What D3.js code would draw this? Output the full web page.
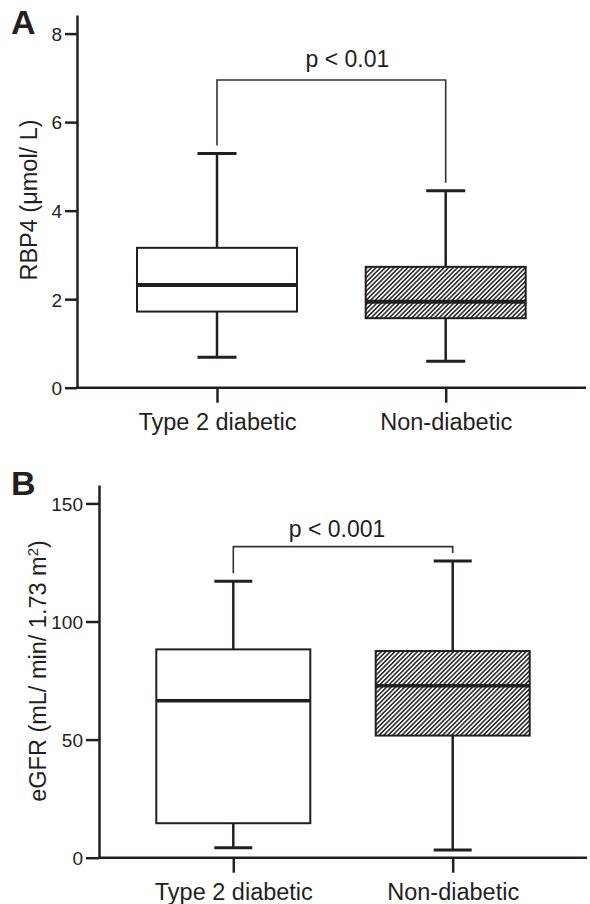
<!DOCTYPE html>
<html>
<head>
<meta charset="utf-8">
<script src="https://cdn.jsdelivr.net/npm/d3@7"></script>
<style>
  html, body { margin: 0; padding: 0; background: #fff; }
  svg { display: block; font-family: "Liberation Sans", Arial, Helvetica, sans-serif; }
</style>
</head>
<body>
<svg id="chart" width="590" height="904"></svg>
<script>
// ---------- data ----------
const categories = ["Type 2 diabetic", "Non-diabetic"];

// Panel A: RBP4 (µmol/L)
const rbp4Low    = [0.69, 0.60];
const rbp4Q1     = [1.72, 1.57];
const rbp4Median = [2.32, 1.94];
const rbp4Q3     = [3.16, 2.73];
const rbp4High   = [5.29, 4.45];
const rbp4Ticks  = [0, 2, 4, 6, 8];
const rbp4Bracket = { level: 6.95, legs: [5.47, 4.63], label: "p < 0.01" };

// Panel B: eGFR (mL/min/1.73 m²)
const egfrLow    = [4.2, 3.3];
const egfrQ1     = [14.6, 51.7];
const egfrMedian = [66.5, 72.8];
const egfrQ3     = [88.2, 87.5];
const egfrHigh   = [117.1, 125.6];
const egfrTicks  = [0, 50, 100, 150];
const egfrBracket = { level: 131.7, legs: [120.4, 129.0], label: "p < 0.001" };

const ink = "#231f20";
const svg = d3.select("#chart");

// hatch pattern
const defs = svg.append("defs");
const pat = defs.append("pattern")
  .attr("id", "hatch")
  .attr("patternUnits", "userSpaceOnUse")
  .attr("width", 3.2).attr("height", 10)
  .attr("patternTransform", "rotate(45)");
pat.append("rect").attr("width", 3.2).attr("height", 10).attr("fill", "#fff");
pat.append("line").attr("x1", 0.8).attr("x2", 0.8).attr("y1", 0).attr("y2", 10)
  .attr("stroke", ink).attr("stroke-width", 1.5);

function panel(cfg) {
  const g = svg.append("g");
  const y = d3.scaleLinear().domain([0, cfg.yTop]).range([cfg.y0, cfg.yTopPx]);
  const x = d3.scalePoint().domain(categories).range(cfg.xRange).padding(0);

  const rows = categories.map((c, i) => ({
    cat: c, i, low: cfg.low[i], q1: cfg.q1[i], med: cfg.med[i], q3: cfg.q3[i], high: cfg.high[i]
  }));

  // y axis
  const yAxis = d3.axisLeft(y).tickValues(cfg.ticks).tickSize(cfg.tickLen).tickSizeOuter(0).tickPadding(3);
  const ya = g.append("g").attr("transform", `translate(${cfg.axisX},0)`).call(yAxis);
  ya.select(".domain").attr("stroke", ink).attr("stroke-width", 2.5);
  ya.selectAll(".tick line").attr("stroke", ink).attr("stroke-width", 2.5);
  ya.selectAll(".tick text").attr("fill", ink).style("font-size", "19px").attr("dy", "0.36em");

  // x axis
  const xAxis = d3.axisBottom(x).tickSize(15).tickSizeOuter(0).tickPadding(12);
  const xa = g.append("g").attr("transform", `translate(0,${cfg.y0})`).call(xAxis);
  xa.select(".domain").remove();
  xa.append("line").attr("x1", cfg.axisX).attr("x2", cfg.xEnd).attr("y1", 0).attr("y2", 0)
    .attr("stroke", ink).attr("stroke-width", 2.5);
  xa.selectAll(".tick line").attr("stroke", ink).attr("stroke-width", 2.5);
  xa.selectAll(".tick text").attr("fill", ink).style("font-size", "23.5px")
    .attr("y", 42).attr("dy", 0);

  // y title
  g.append("text")
    .attr("transform", `translate(${cfg.titleX},${cfg.titleY}) rotate(-90)`)
    .attr("text-anchor", "middle").attr("fill", ink).style("font-size", "23.5px")
    .html(cfg.title);

  // panel letter
  g.append("text").attr("x", 11).attr("y", cfg.letterY).attr("fill", ink)
    .style("font-size", "34px").style("font-weight", "bold").text(cfg.letter);

  // boxes
  const bw = cfg.boxW, cw = cfg.capW;
  const box = g.selectAll(".box").data(rows).join("g").attr("class", "box");
  // whiskers
  box.append("line").attr("x1", d => x(d.cat)).attr("x2", d => x(d.cat))
    .attr("y1", d => y(d.high)).attr("y2", d => y(d.q3)).attr("stroke", ink).attr("stroke-width", 2.5);
  box.append("line").attr("x1", d => x(d.cat)).attr("x2", d => x(d.cat))
    .attr("y1", d => y(d.q1)).attr("y2", d => y(d.low)).attr("stroke", ink).attr("stroke-width", 2.5);
  // caps
  box.append("line").attr("x1", d => x(d.cat) - cw / 2).attr("x2", d => x(d.cat) + cw / 2)
    .attr("y1", d => y(d.high)).attr("y2", d => y(d.high)).attr("stroke", ink).attr("stroke-width", 3);
  box.append("line").attr("x1", d => x(d.cat) - cw / 2).attr("x2", d => x(d.cat) + cw / 2)
    .attr("y1", d => y(d.low)).attr("y2", d => y(d.low)).attr("stroke", ink).attr("stroke-width", 3);
  // box rect
  box.append("rect")
    .attr("x", d => x(d.cat) - bw / 2).attr("width", bw)
    .attr("y", d => y(d.q3)).attr("height", d => y(d.q1) - y(d.q3))
    .attr("fill", d => d.i === 1 ? "url(#hatch)" : "#fff")
    .attr("stroke", ink).attr("stroke-width", 2);
  // median
  box.append("line").attr("x1", d => x(d.cat) - bw / 2).attr("x2", d => x(d.cat) + bw / 2)
    .attr("y1", d => y(d.med)).attr("y2", d => y(d.med)).attr("stroke", ink).attr("stroke-width", cfg.medW);

  // significance bracket
  const b = cfg.bracket;
  const bx0 = x(categories[0]), bx1 = x(categories[1]);
  g.append("path")
    .attr("d", `M${bx0},${y(b.legs[0])}V${y(b.level)}H${bx1}V${y(b.legs[1])}`)
    .attr("fill", "none").attr("stroke", "#333").attr("stroke-width", 1.6);
  g.append("text").attr("x", (bx0 + bx1) / 2 + cfg.pShift).attr("y", y(b.level) - cfg.pGap)
    .attr("text-anchor", "middle").attr("fill", ink).style("font-size", "23px").text(b.label);
}

panel({
  letter: "A", letterY: 33.5,
  title: "RBP4 (μmol/ L)", titleX: 37, titleY: 200,
  yTop: 8.42, y0: 387.7, yTopPx: 15, ticks: rbp4Ticks,
  axisX: 77, xEnd: 586, tickLen: 12,
  xRange: [217, 445.7], boxW: 160, capW: 39, medW: 4,
  low: rbp4Low, q1: rbp4Q1, med: rbp4Median, q3: rbp4Q3, high: rbp4High,
  bracket: rbp4Bracket, pShift: 16, pGap: 13.3
});

panel({
  letter: "B", letterY: 495,
  title: "eGFR (mL/ min/ 1.73 m<tspan baseline-shift='super' style='font-size:15px'>2</tspan>)", titleX: 46, titleY: 671,
  yTop: 157.8, y0: 857.7, yTopPx: 485, ticks: egfrTicks,
  axisX: 99, xEnd: 587, tickLen: 13,
  xRange: [233.3, 452.7], boxW: 154, capW: 38, medW: 3.5,
  low: egfrLow, q1: egfrQ1, med: egfrMedian, q3: egfrQ3, high: egfrHigh,
  bracket: egfrBracket, pShift: -6, pGap: 10
});
</script>
</body>
</html>
